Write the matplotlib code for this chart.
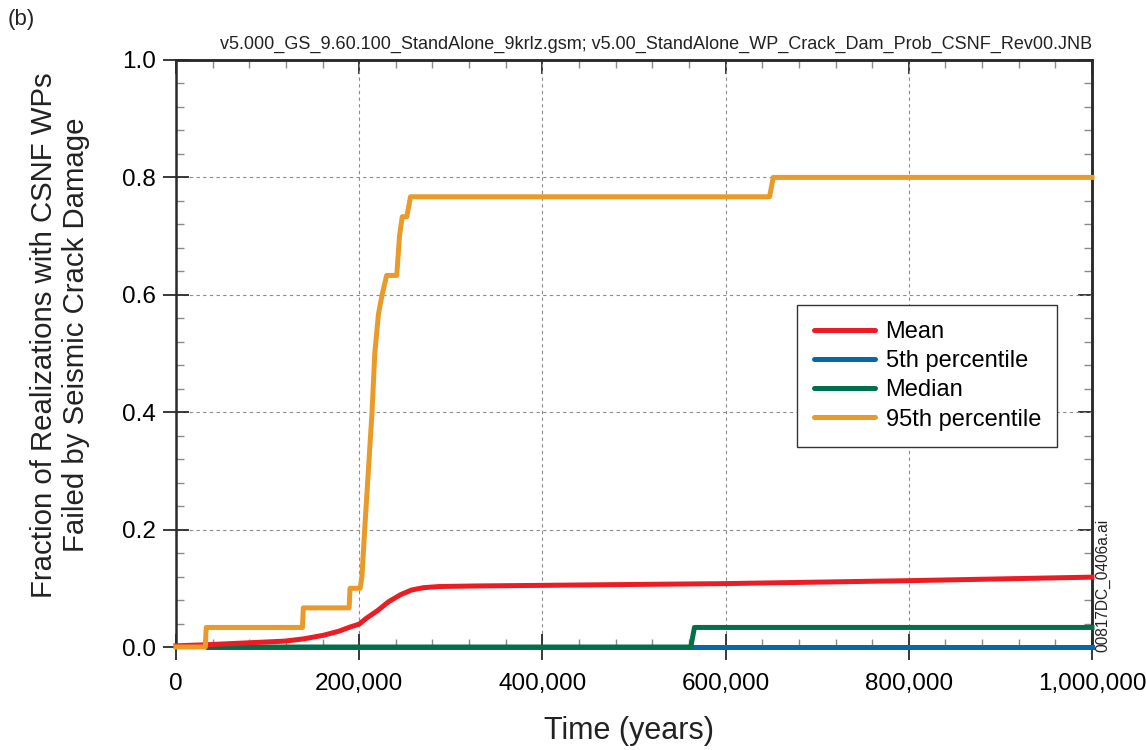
import matplotlib
matplotlib.use("Agg")
import matplotlib.pyplot as plt
from matplotlib.ticker import MultipleLocator, FuncFormatter

plt.rcParams['font.family'] = ['Liberation Sans', 'DejaVu Sans']

# mean curve (years, fraction)
mean_t = [0, 35e3, 77e3, 119e3, 140e3, 161e3, 178e3, 190e3, 200e3, 207e3, 220e3,
          232e3, 245e3, 257e3, 270e3, 287e3, 328e3, 400e3, 463e3, 600e3, 800e3, 1e6]
mean_v = [0.002, 0.004, 0.007, 0.010, 0.014, 0.020, 0.027, 0.034, 0.039, 0.048, 0.062,
          0.077, 0.089, 0.097, 0.101, 0.103, 0.104, 0.105, 0.106, 0.108, 0.113, 0.119]

# 95th percentile
p95_t = [0, 32e3, 33e3, 138e3, 139e3, 189e3, 190e3, 201e3, 203e3, 206e3, 210e3, 214e3,
         217e3, 221e3, 225e3, 230e3, 241e3, 244e3, 247e3, 252e3, 256e3, 648e3, 652e3, 1e6]
p95_v = [0, 0, 0.0333, 0.0333, 0.0667, 0.0667, 0.1, 0.1, 0.12, 0.2, 0.3, 0.4,
         0.5, 0.567, 0.6, 0.633, 0.633, 0.7, 0.733, 0.733, 0.767, 0.767, 0.8, 0.8]

# median
med_t = [35e3, 562e3, 566e3, 1e6]
med_v = [0, 0, 0.0333, 0.0333]

# 5th percentile
p5_t = [35e3, 1e6]
p5_v = [0, 0]

labels = ["Mean", "5th percentile", "Median", "95th percentile"]
colors = ["#ED1C24", "#0A66AA", "#00704A", "#E99A28"]

fig = plt.figure(figsize=(11.46, 7.5), dpi=100)
ax = fig.add_axes([176/1146, 103/750, 916/1146, 587/750])

lw = 3.6
h_p5, = ax.plot(p5_t, p5_v, color=colors[1], lw=lw, clip_on=False, zorder=3)
h_med, = ax.plot(med_t, med_v, color=colors[2], lw=lw, clip_on=False, zorder=3.1)
h_mean, = ax.plot(mean_t, mean_v, color=colors[0], lw=lw, clip_on=False, zorder=3.2)
h_p95, = ax.plot(p95_t, p95_v, color=colors[3], lw=lw, clip_on=False, zorder=3.3)

ax.set_xlim(0, 1e6)
ax.set_ylim(0, 1.0)
ax.xaxis.set_major_locator(MultipleLocator(200000))
ax.xaxis.set_minor_locator(MultipleLocator(40000))
ax.yaxis.set_major_locator(MultipleLocator(0.2))
ax.yaxis.set_minor_locator(MultipleLocator(0.04))
ax.xaxis.set_major_formatter(FuncFormatter(lambda v, p: f"{int(round(v)):,}"))
ax.yaxis.set_major_formatter(FuncFormatter(lambda v, p: f"{v:.1f}"))

ax.grid(which='major', ls=(0, (3, 3)), color='#8c8c8c', lw=0.8)
ax.set_axisbelow(True)

for s in ax.spines.values():
    s.set_linewidth(1.8)
    s.set_color('#2a2a2a')

ax.tick_params(which='major', direction='inout', length=19, width=1.3,
               color='#2a2a2a', labelsize=17.5, pad=5)
ax.tick_params(axis='x', which='major', pad=9)
ax.tick_params(which='minor', direction='in', length=6, width=1.0, color='#8a8a8a')

# top and right ticks point inward
sx = ax.secondary_xaxis('top')
sx.set_xticks(range(0, 1000001, 200000))
sx.set_xticks(range(0, 1000001, 40000), minor=True)
sx.tick_params(which='major', direction='in', length=10, width=1.3, color='#2a2a2a', labeltop=False)
sx.tick_params(which='minor', direction='in', length=6, width=1.0, color='#8a8a8a')
sx.spines['top'].set_linewidth(1.8)
sx.spines['top'].set_color('#2a2a2a')

sy = ax.secondary_yaxis('right')
sy.set_yticks([0, 0.2, 0.4, 0.6, 0.8, 1.0])
sy.set_yticks([i * 0.04 for i in range(26)], minor=True)
sy.tick_params(which='major', direction='in', length=10, width=1.3, color='#2a2a2a', labelright=False)
sy.tick_params(which='minor', direction='in', length=6, width=1.0, color='#8a8a8a')
sy.spines['right'].set_linewidth(1.8)
sy.spines['right'].set_color('#2a2a2a')

leg = ax.legend([h_mean, h_p5, h_med, h_p95], labels, loc='upper left',
                bbox_to_anchor=(0.678, 0.583), borderaxespad=0, fontsize=17,
                handlelength=2.6, handletextpad=0.45, labelspacing=0.3,
                borderpad=0.7, fancybox=False, framealpha=1)
leg.get_frame().set_edgecolor('#333333')
leg.get_frame().set_linewidth(1.0)
for ln in leg.get_lines():
    ln.set_linewidth(3.6)
    ln.set_solid_capstyle('round')

ax.text(1.0, 1.012,
        "v5.000_GS_9.60.100_StandAlone_9krlz.gsm; v5.00_StandAlone_WP_Crack_Dam_Prob_CSNF_Rev00.JNB",
        transform=ax.transAxes, ha='right', va='bottom', fontsize=13, color='#222222')

fig.text(60/1146, (750-335)/750,
         "Fraction of Realizations with CSNF WPs\nFailed by Seismic Crack Damage",
         rotation=90, ha='center', va='center', multialignment='center',
         fontsize=21.2, color='#222222', linespacing=1.2)
fig.text(629/1146, (750-731)/750, "Time (years)", ha='center', va='center',
         fontsize=22, color='#222222')
fig.text(8/1146, (750-19)/750, "(b)", ha='left', va='center', fontsize=16, color='#222222')
fig.text(1103/1146, (750-652)/750, "00817DC_0406a.ai", rotation=90, ha='center',
         va='bottom', fontsize=11.2, color='#222222')

fig.savefig("out.png", dpi=100)
